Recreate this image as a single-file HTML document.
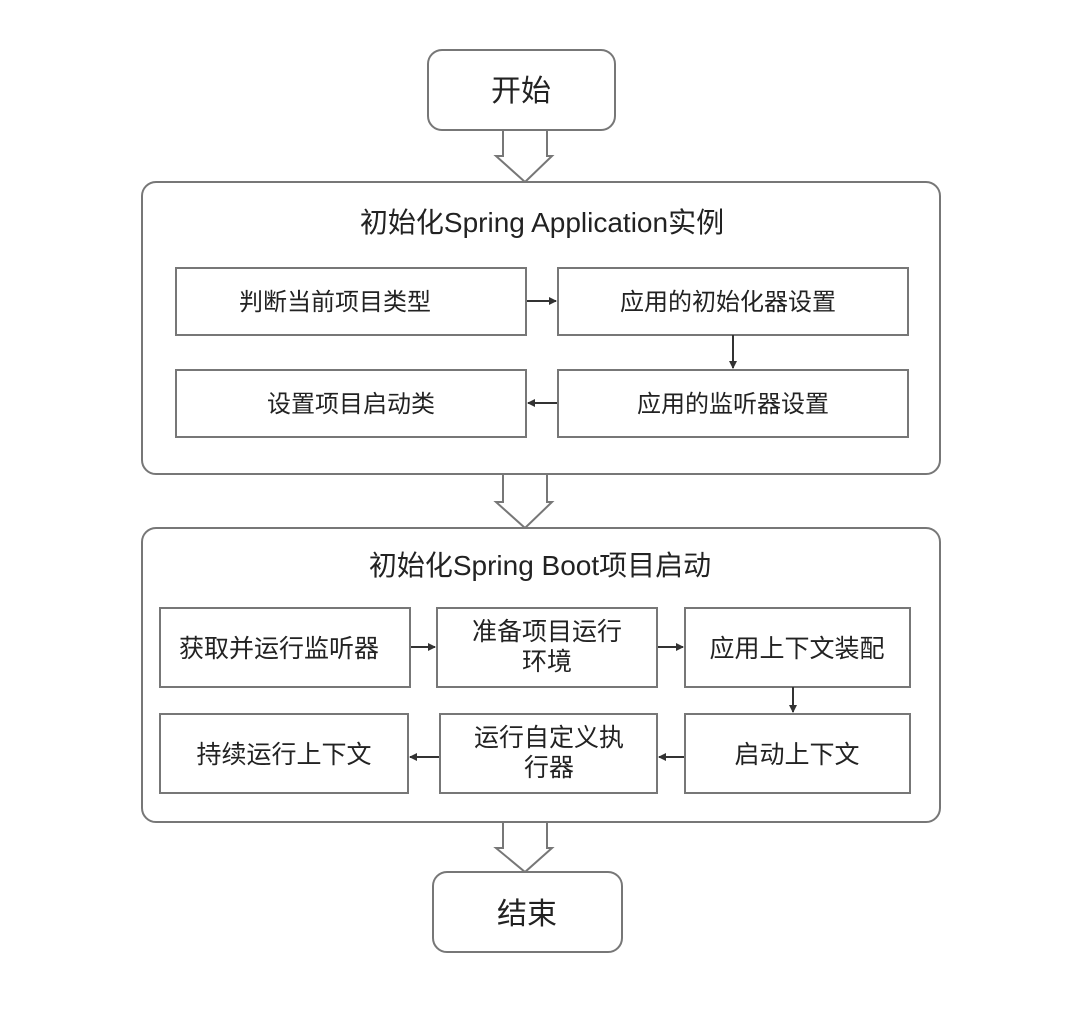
<!DOCTYPE html>
<html><head><meta charset="utf-8">
<style>
html,body{margin:0;padding:0;background:#fff;}
svg{display:block;}
text{font-family:"Liberation Sans","Noto Sans CJK SC",sans-serif;fill:#222;}
</style></head>
<body>
<svg width="1080" height="1017" viewBox="0 0 1080 1017" xmlns="http://www.w3.org/2000/svg">
<defs>
<marker id="ah" markerWidth="8" markerHeight="8" refX="7" refY="4" orient="auto" markerUnits="userSpaceOnUse">
<path d="M0,0 L8,4 L0,8 z" fill="#333"/></marker>
</defs>
<g stroke="#777" stroke-width="2" fill="#fff">
<rect x="428" y="50" width="187" height="80" rx="14"/>
<path d="M503,130 H547 V156 H552 L525,182 L496,156 H503 Z"/>
<rect x="142" y="182" width="798" height="292" rx="14"/>
<rect x="176" y="268" width="350" height="67"/>
<rect x="558" y="268" width="350" height="67"/>
<rect x="176" y="370" width="350" height="67"/>
<rect x="558" y="370" width="350" height="67"/>
<path d="M503,474 H547 V502 H552 L525,528 L496,502 H503 Z"/>
<rect x="142" y="528" width="798" height="294" rx="14"/>
<rect x="160" y="608" width="250" height="79"/>
<rect x="437" y="608" width="220" height="79"/>
<rect x="685" y="608" width="225" height="79"/>
<rect x="160" y="714" width="248" height="79"/>
<rect x="440" y="714" width="217" height="79"/>
<rect x="685" y="714" width="225" height="79"/>
<path d="M503,822 H547 V848 H552 L525,872 L496,848 H503 Z"/>
<rect x="433" y="872" width="189" height="80" rx="14"/>
</g>
<g stroke="#333" stroke-width="2" fill="none">
<line x1="527" y1="301" x2="556" y2="301" marker-end="url(#ah)"/>
<line x1="733" y1="335" x2="733" y2="368" marker-end="url(#ah)"/>
<line x1="557" y1="403" x2="528" y2="403" marker-end="url(#ah)"/>
<line x1="411" y1="647" x2="435" y2="647" marker-end="url(#ah)"/>
<line x1="658" y1="647" x2="683" y2="647" marker-end="url(#ah)"/>
<line x1="793" y1="687" x2="793" y2="712" marker-end="url(#ah)"/>
<line x1="684" y1="757" x2="659" y2="757" marker-end="url(#ah)"/>
<line x1="439" y1="757" x2="410" y2="757" marker-end="url(#ah)"/>
</g>
<g text-anchor="middle" font-size="26">
<text x="521" y="101" font-size="30">开始</text>
<text x="542" y="232" font-size="28">初始化Spring Application实例</text>
<text x="335" y="310" font-size="24">判断当前项目类型</text>
<text x="728" y="310" font-size="24">应用的初始化器设置</text>
<text x="351" y="412" font-size="24">设置项目启动类</text>
<text x="733" y="412" font-size="24">应用的监听器设置</text>
<text x="540" y="575" font-size="28">初始化Spring Boot项目启动</text>
<text x="279" y="657" font-size="25">获取并运行监听器</text>
<text x="547" y="640" font-size="25">准备项目运行</text>
<text x="547" y="670" font-size="25">环境</text>
<text x="797" y="657" font-size="25">应用上下文装配</text>
<text x="284" y="763" font-size="25">持续运行上下文</text>
<text x="549" y="746" font-size="25">运行自定义执</text>
<text x="549" y="776" font-size="25">行器</text>
<text x="797" y="763" font-size="25">启动上下文</text>
<text x="527" y="924" font-size="30">结束</text>
</g>
</svg>
</body></html>
